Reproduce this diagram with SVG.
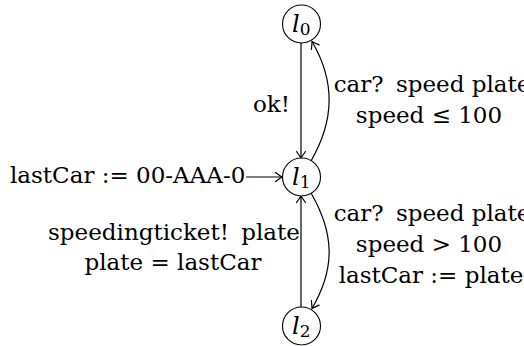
<svg xmlns="http://www.w3.org/2000/svg" width="524" height="346" viewBox="0 0 524 346">
<defs>
<marker id="arr" markerUnits="userSpaceOnUse" markerWidth="14" markerHeight="14" refX="0" refY="0" viewBox="-8 -7 10 14" orient="auto" overflow="visible">
<path d="M-6.5,-4.5 Q-2,-1.2 0,0 Q-2,1.2 -6.5,4.5" fill="none" stroke="#000" stroke-width="1.2" stroke-linecap="round"/>
</marker>
</defs>
<g id="edges" fill="none" stroke="#000" stroke-width="1.2">
<line x1="301" y1="43" x2="301" y2="158" marker-end="url(#arr)"/>
<line x1="301" y1="307" x2="301" y2="196" marker-end="url(#arr)"/>
<line x1="246" y1="177" x2="282" y2="177" marker-end="url(#arr)"/>
<path d="M311,161 C334.5,120.3 335.5,81.7 312,41.5" marker-end="url(#arr)"/>
<path d="M311,193 C334.5,233.7 335.5,268.3 312,308.5" marker-end="url(#arr)"/>
</g>
<g id="l0">
<circle cx="301.5" cy="24" r="19" fill="#fff" stroke="#000" stroke-width="1.1"/>
<text font-family="DejaVu Serif, serif" font-style="italic" font-size="24" x="292" y="32">l<tspan font-size="17" font-style="normal" dy="3">0</tspan></text>
</g>
<g id="l1">
<circle cx="301.5" cy="177" r="19" fill="#fff" stroke="#000" stroke-width="1.1"/>
<text font-family="DejaVu Serif, serif" font-style="italic" font-size="24" x="292" y="185">l<tspan font-size="17" font-style="normal" dy="3">1</tspan></text>
</g>
<g id="l2">
<circle cx="301.5" cy="326" r="19" fill="#fff" stroke="#000" stroke-width="1.1"/>
<text font-family="DejaVu Serif, serif" font-style="italic" font-size="24" x="292" y="334">l<tspan font-size="17" font-style="normal" dy="3">2</tspan></text>
</g>
<g id="labels" font-family="DejaVu Serif, serif" font-size="23" fill="#000">
<text x="290" y="112" text-anchor="end">ok!</text>
<text x="432" y="92" text-anchor="middle">car? <tspan dx="5">speed plate</tspan></text>
<text x="429" y="123" text-anchor="middle">speed ≤ 100</text>
<text x="10" y="183">lastCar := 00-AAA-0</text>
<text x="432" y="221" text-anchor="middle">car? <tspan dx="5">speed plate</tspan></text>
<text x="429" y="252" text-anchor="middle">speed &gt; 100</text>
<text x="431" y="283" text-anchor="middle">lastCar := plate</text>
<text x="174" y="240" text-anchor="middle">speedingticket! <tspan dx="5">plate</tspan></text>
<text x="173" y="270" text-anchor="middle">plate = lastCar</text>
</g>
</svg>
